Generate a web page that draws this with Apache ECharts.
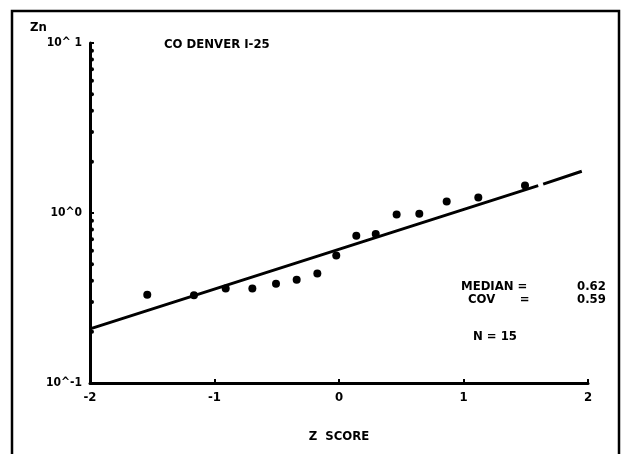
<!DOCTYPE html>
<html>
<head>
<meta charset="utf-8">
<script src="https://cdn.jsdelivr.net/npm/echarts@6/dist/echarts.min.js"></script>
<style>
  html, body { margin: 0; padding: 0; background: #fff; }
  #chart { width: 627px; height: 454px; }
</style>
</head>
<body>
<div id="chart"></div>
<script>
// z score / Zn concentration
var zScore = [-1.54, -1.165, -0.91, -0.696, -0.506, -0.34, -0.174, -0.022, 0.139, 0.295, 0.463, 0.645, 0.865, 1.119, 1.494];
var znValue = [0.330, 0.328, 0.360, 0.360, 0.383, 0.405, 0.441, 0.563, 0.735, 0.752, 0.981, 0.99, 1.17, 1.235, 1.45];

// fitted line (two pieces, small gap in the print)
var lineZ = [-2, 1.6, 1.64, 1.95];
var lineVal = [0.208, 1.45, 1.48, 1.76];
var lineGapAfter = 1;

var yTicks = [0.1, 1, 10];
var yTickLabels = ['10^-1', '10^0', '10^ 1'];
var yMinorTicks = [0.2, 0.3, 0.4, 0.5, 0.6, 0.7, 0.8, 0.9, 2, 3, 4, 5, 6, 7, 8, 9];

var font = '"Liberation Sans Narrow", "DejaVu Sans Condensed", "Liberation Sans", sans-serif';

var lineData = [];
for (var i = 0; i < lineZ.length; i++) {
	lineData.push([lineZ[i], lineVal[i]]);
	if (i == lineGapAfter) lineData.push([(lineZ[i] + lineZ[i + 1]) / 2, '-']);
}
var pts = [];
for (var i = 0; i < zScore.length; i++) pts.push([zScore[i], znValue[i]]);
var minor = [];
for (var i = 0; i < yMinorTicks.length; i++) minor.push([-2, yMinorTicks[i]]);

var txt = { fontFamily: font, fontWeight: 'bold', fontSize: 13, fill: '#000' };

var option = {
	backgroundColor: '#fff',
	animation: false,
	grid: { left: 90, right: 39, top: 43, bottom: 71 },
	xAxis: {
		type: 'value', min: -2, max: 2, interval: 1,
		name: 'Z  SCORE', nameLocation: 'middle', nameGap: 47,
		nameTextStyle: { fontFamily: font, fontWeight: 'bold', fontSize: 13, color: '#000' },
		axisLine: { onZero: false, lineStyle: { color: '#000', width: 3 } },
		axisTick: { inside: true, length: 4, lineStyle: { color: '#000', width: 2 } },
		axisLabel: { fontFamily: font, fontWeight: 'bold', fontSize: 13, color: '#000', margin: 8 },
		splitLine: { show: false }
	},
	yAxis: {
		type: 'log', logBase: 10, min: 0.1, max: 10,
		axisLine: { show: true, onZero: false, lineStyle: { color: '#000', width: 3 } },
		axisTick: { show: true, inside: true, length: 4, lineStyle: { color: '#000', width: 2 } },
		axisLabel: {
			fontFamily: font, fontWeight: 'bold', fontSize: 12, color: '#000', margin: 8,
			formatter: function (v) {
				for (var k = 0; k < yTicks.length; k++) if (Math.abs(v - yTicks[k]) < 1e-9 * yTicks[k]) return yTickLabels[k];
				return '';
			}
		},
		splitLine: { show: false }
	},
	graphic: [
		{ type: 'rect', shape: { x: 12, y: 11, width: 607, height: 460 }, style: { fill: 'none', stroke: '#000', lineWidth: 2.5 } },
		{ type: 'text', left: 30, top: 21, style: Object.assign({ text: 'Zn' }, txt) },
		{ type: 'text', left: 164, top: 38, style: Object.assign({ text: 'CO DENVER I-25' }, txt) },
		{ type: 'text', left: 461, top: 280, style: Object.assign({ text: 'MEDIAN =' }, txt) },
		{ type: 'text', left: 577, top: 280, style: Object.assign({ text: '0.62' }, txt) },
		{ type: 'text', left: 468, top: 293, style: Object.assign({ text: 'COV      =' }, txt) },
		{ type: 'text', left: 577, top: 293, style: Object.assign({ text: '0.59' }, txt) },
		{ type: 'text', left: 473, top: 330, style: Object.assign({ text: 'N = 15' }, txt) }
	],
	series: [
		{
			type: 'line', data: lineData, symbol: 'none', connectNulls: false,
			lineStyle: { color: '#000', width: 3 }, z: 2
		},
		{
			type: 'scatter', data: pts, symbol: 'circle', symbolSize: 8,
			itemStyle: { color: '#000', opacity: 1 }, z: 3
		},
		{
			type: 'scatter', data: minor, symbol: 'circle', symbolSize: 4, symbolOffset: [2, 0],
			itemStyle: { color: '#000', opacity: 1 }, z: 3
		}
	]
};

echarts.init(document.getElementById('chart')).setOption(option);
</script>
</body>
</html>
